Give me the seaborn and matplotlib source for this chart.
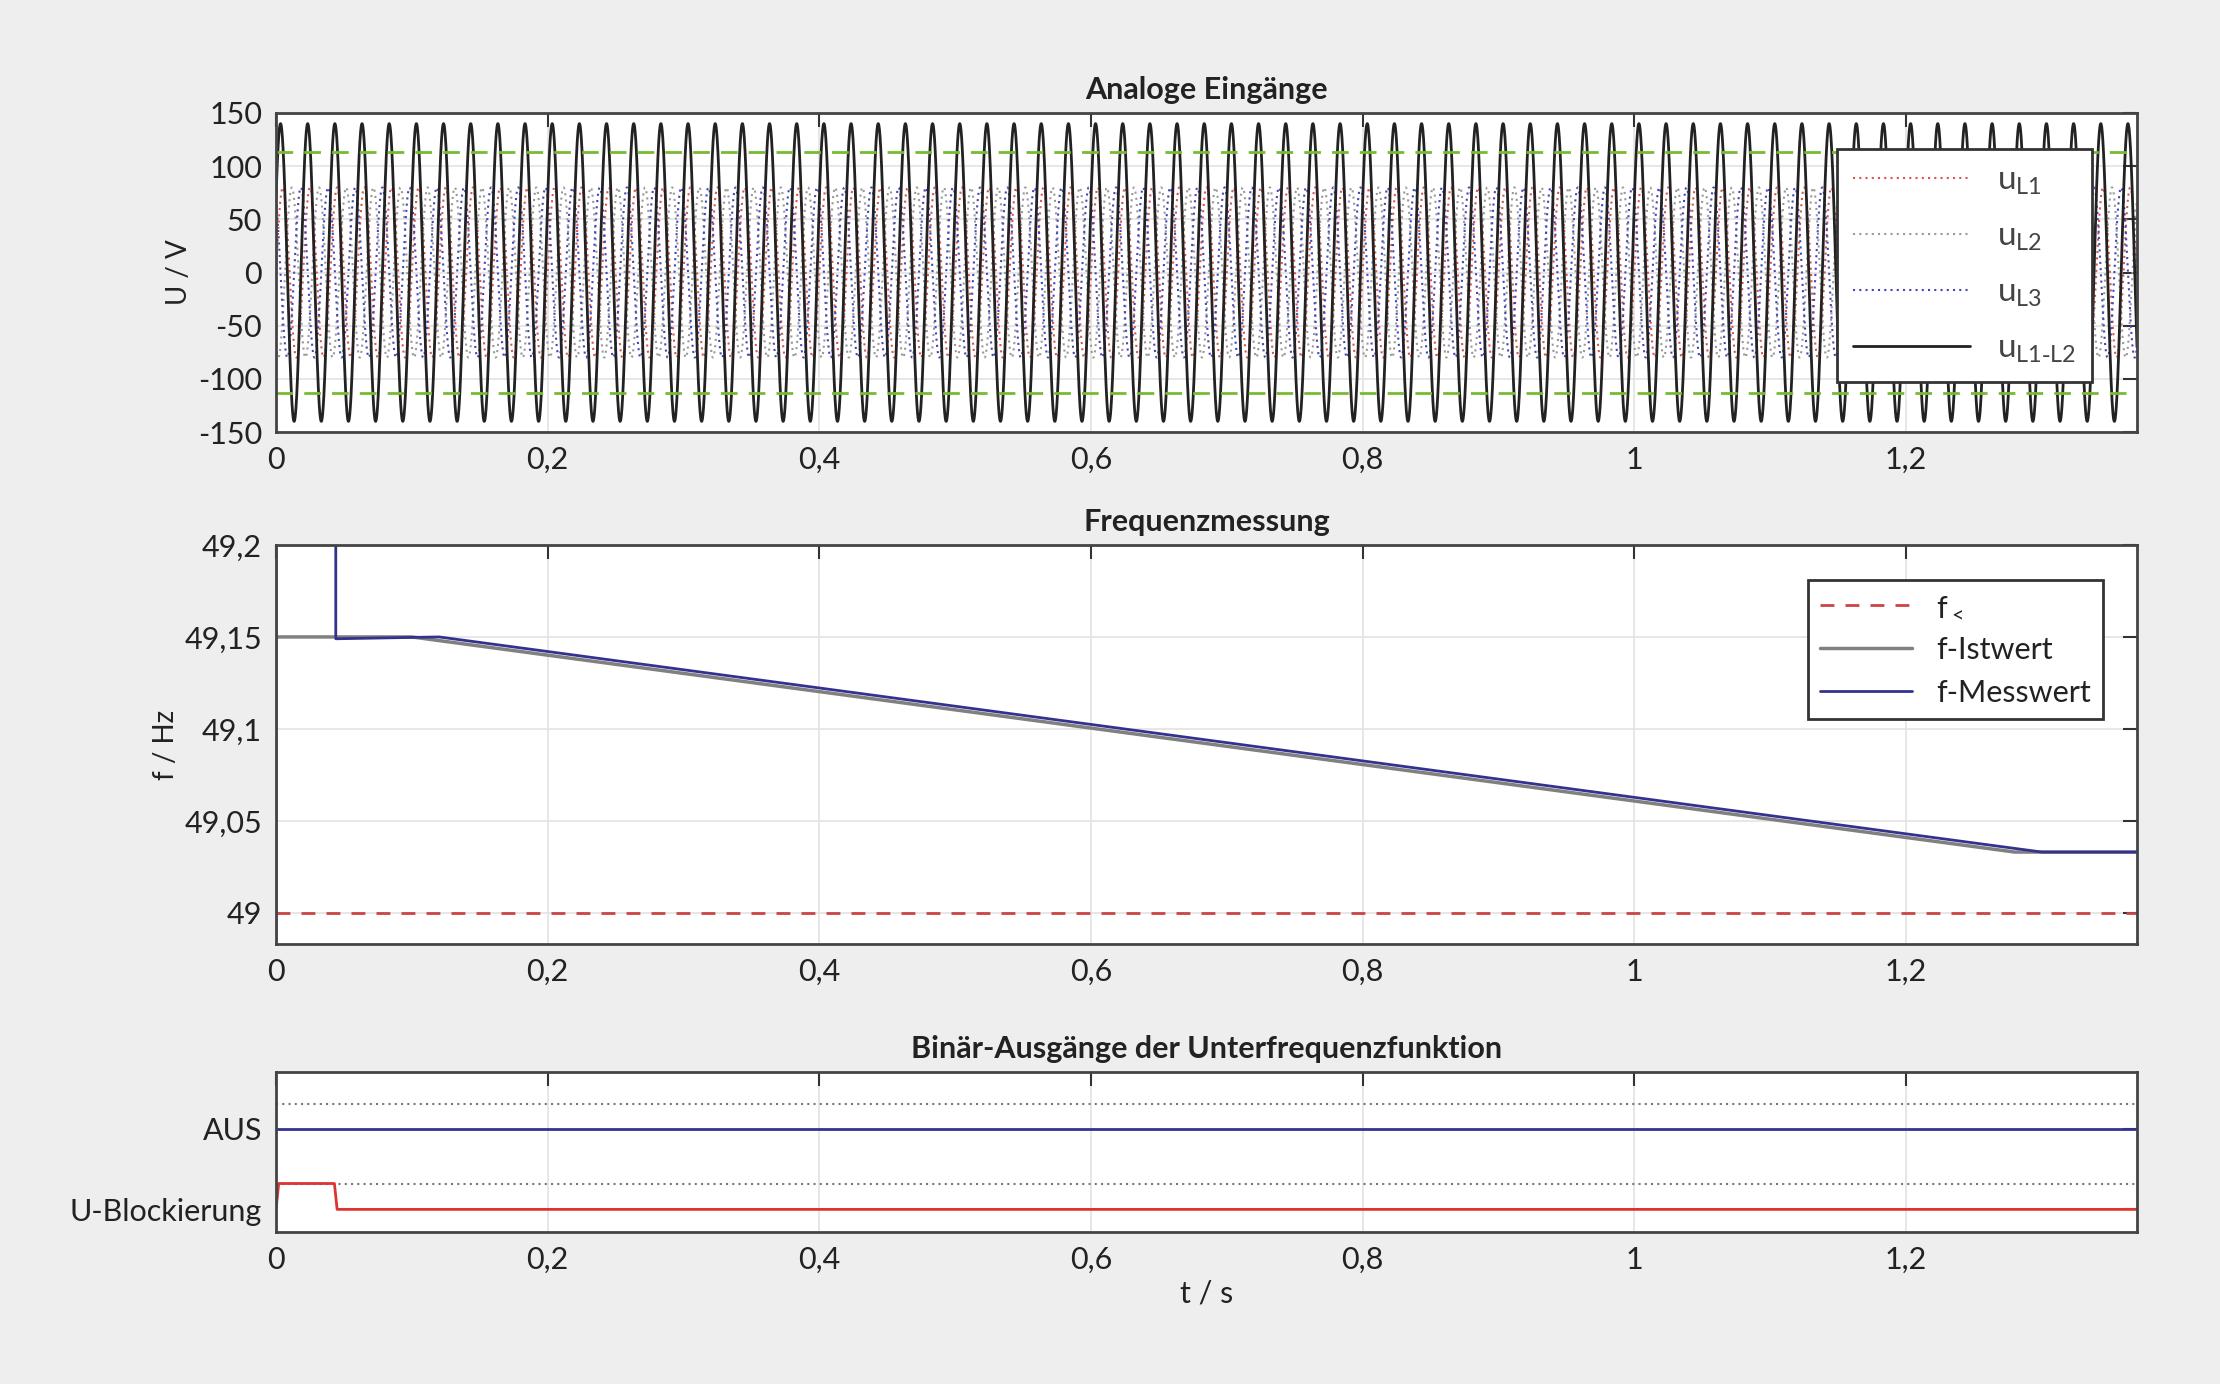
import numpy as np
import pandas as pd
import matplotlib
matplotlib.use('Agg')
import matplotlib.pyplot as plt
import seaborn as sns

# signal data
t_end = 1.37
f_netz = 50.0
amp_phase = 80.0
amp_ll = 140.0
u_grenz = 113.0
phase_deg = [0, -120, 120]

# frequency breakpoints
t_ist = [0.0, 0.10, 1.28, 1.37]
f_ist = [49.15, 49.15, 49.033, 49.033]
t_mess = [0.0, 0.0, 0.002, 0.044, 0.044, 0.12, 1.30, 1.37]
f_mess = [48.98, 49.25, 49.25, 49.25, 49.149, 49.15, 49.033, 49.033]
f_schwelle = 49.0

# binary outputs
t_aus = [0.0, 1.37]
aus = [1.0, 1.0]
t_ublk = [0.0, 0.002, 0.043, 0.045, 1.37]
ublk = [0.0, 0.32, 0.32, 0.0, 0.0]

sns.set_theme(style='white')
plt.rcParams['font.family'] = ['Lato', 'DejaVu Sans']
plt.rcParams['mathtext.default'] = 'regular'
plt.rcParams['axes.unicode_minus'] = False
plt.rcParams['xtick.direction'] = 'in'
plt.rcParams['ytick.direction'] = 'in'
plt.rcParams['text.color'] = '#222222'
plt.rcParams['axes.labelcolor'] = '#222222'

fig = plt.figure(figsize=(22.2, 13.84), dpi=100, facecolor='#eeeeee')
ax1 = fig.add_axes([276/2220, 1-432/1384, 1861/2220, 319/1384])
ax2 = fig.add_axes([276/2220, 1-944/1384, 1861/2220, 399/1384])
ax3 = fig.add_axes([276/2220, 1-1232/1384, 1861/2220, 160/1384])

t = np.linspace(0, t_end, 20000)
cols = ['#d9534f', '#999999', '#4444bb']
names = ['u$_{L1}$', 'u$_{L2}$', 'u$_{L3}$']
ph = [amp_phase*np.sin(2*np.pi*f_netz*t + np.deg2rad(p)) for p in phase_deg]
for y, c, n in zip(ph, cols, names):
    sns.lineplot(x=t, y=y, ax=ax1, color=c, ls=(0, (1, 2)), lw=1.5, label=n)
sns.lineplot(x=t, y=amp_ll*np.sin(2*np.pi*f_netz*t + np.deg2rad(30)), ax=ax1,
             color='#222222', lw=2, label='u$_{L1\\text{-}L2}$')
for g in (u_grenz, -u_grenz):
    ax1.axhline(g, color='#77bb33', ls=(0, (6, 4)), lw=2)
ax1.set_ylim(-150, 150)
ax1.set_yticks([-150, -100, -50, 0, 50, 100, 150])
ax1.set_ylabel('U / V', fontsize=20)
ax1.set_title('Analoge Eingänge', fontsize=22, fontweight='bold', pad=10)
leg = ax1.legend(loc='upper right', bbox_to_anchor=(0.985, 0.94), fontsize=24,
                 labelspacing=0.75, handlelength=3.5, fancybox=False, framealpha=1,
                 edgecolor='#333333', borderpad=0.5)
leg.get_frame().set_linewidth(2)
for txt in leg.get_texts():
    txt.set_color('#444444')

ax2.axhline(f_schwelle, color='#cc4444', ls=(0, (5, 4)), lw=2, label='f$_<$')
sns.lineplot(x=t_ist, y=f_ist, ax=ax2, color='#808080', lw=2.5, label='f-Istwert',
             estimator=None, sort=False)
sns.lineplot(x=t_mess, y=f_mess, ax=ax2, color='#33338f', lw=2, label='f-Messwert',
             estimator=None, sort=False)
ax2.set_ylim(48.983, 49.2)
ax2.set_yticks([49, 49.05, 49.1, 49.15, 49.2])
ax2.set_yticklabels(['49', '49,05', '49,1', '49,15', '49,2'])
ax2.set_ylabel('f / Hz', fontsize=20)
ax2.set_title('Frequenzmessung', fontsize=22, fontweight='bold', pad=10)
leg2 = ax2.legend(loc='upper right', bbox_to_anchor=(0.99, 0.95), fontsize=22,
                  handlelength=3, fancybox=False, framealpha=1, edgecolor='#333333')
leg2.get_frame().set_linewidth(2)

for lv in (0.32, 1.3):
    ax3.axhline(lv, color='#777777', ls=(0, (1, 2)), lw=1.5)
sns.lineplot(x=t_aus, y=aus, ax=ax3, color='#33338f', lw=2, estimator=None)
sns.lineplot(x=t_ublk, y=ublk, ax=ax3, color='#dd3333', lw=2, sort=False,
             estimator=None)
ax3.set_ylim(-0.28, 1.7)
ax3.set_yticks([0, 1])
ax3.set_yticklabels(['U-Blockierung', 'AUS'])
ax3.set_title('Binär-Ausgänge der Unterfrequenzfunktion', fontsize=22,
              fontweight='bold', pad=10)
ax3.set_xlabel('t / s', fontsize=22)

xt = [0, 0.2, 0.4, 0.6, 0.8, 1.0, 1.2]
for ax in (ax1, ax2, ax3):
    ax.set_xlim(0, t_end)
    ax.set_xticks(xt)
    ax.set_xticklabels(['0', '0,2', '0,4', '0,6', '0,8', '1', '1,2'])
    ax.grid(True, color='#e3e3e3', lw=1.2)
    ax.set_axisbelow(True)
    ax.tick_params(labelsize=22, length=10, width=1.5, color='#333333',
                   labelcolor='#222222', top=True, right=True, pad=10)
    for s in ax.spines.values():
        s.set_color('#444444')
        s.set_linewidth(2)
    ax.set_facecolor('white')
ax3.grid(False, axis='y')

fig.savefig('out.png', dpi=100, facecolor=fig.get_facecolor())
